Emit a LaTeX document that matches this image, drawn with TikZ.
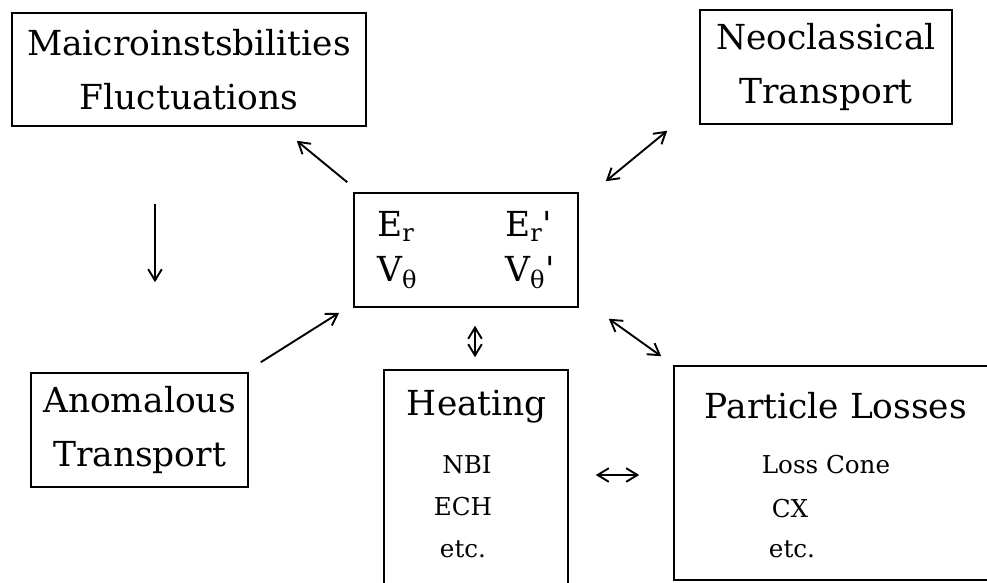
\documentclass[tikz,border=0pt]{standalone}
\usepackage{fontspec}
\setmainfont{DejaVu Serif}
\usepackage{tikz}
\usetikzlibrary{arrows.meta,calc}

\begin{document}
\begin{tikzpicture}[x=0.25mm,y=-0.25mm,
    every node/.style={font=\fontsize{24.5}{38}\selectfont, align=center},
    box/.style={draw, line width=1.1pt, inner sep=0pt},
    title/.style={anchor=base},
    item/.style={font=\fontsize{17.5}{20}\selectfont, anchor=base},
    arr/.style={-{Straight Barb[length=2.8mm,width=3.4mm]}, line width=1.35pt},
    dbl/.style={{Straight Barb[length=2.8mm,width=3.4mm]}-{Straight Barb[length=2.8mm,width=3.4mm]}, line width=1.35pt}
  ]
  \clip (0,0) rectangle (987,582);
  % boxes
  \node[box, minimum width=88.5mm, minimum height=28.25mm] (mic) at (189,69.5) {Maicroinstsbilities\\Fluctuations};
  \node[box, minimum width=63mm, minimum height=28.5mm] (neo) at (826,67) {Neoclassical\\Transport};
  \node[box, minimum width=56mm, minimum height=28.5mm] (cen) at (466,250)
    {\fontsize{24.5}{32}\selectfont\begin{tabular}{@{}l@{\hspace{22mm}}l@{}}
      E\textsubscript{r} & E\textsubscript{r}\textquotesingle\\
      V\textsubscript{θ} & V\textsubscript{θ}\textquotesingle
    \end{tabular}};
  \node[box, minimum width=54.25mm, minimum height=28.5mm] (ano) at (139.5,430) {Anomalous\\Transport};
  \node[box, minimum width=46mm, minimum height=57.5mm] (hea) at (476,485) {};
  \node[box, minimum width=81.5mm, minimum height=53.5mm] (par) at (837,473) {};
  % box contents
  \node[title] (heat) at (477,415) {Heating};
  \node[item] (nbi) at (467,473) {NBI};
  \node[item] (ech) at (463,515) {ECH};
  \node[item] (hetc) at (463,557) {etc.};
  \node[title] (part) at (836,418) {Particle Losses};
  \node[item] (cone) at (826,473) {Loss Cone};
  \node[item] (cx) at (790,517) {CX};
  \node[item] (petc) at (792,557) {etc.};
  % connectors
  \draw[arr] ($(cen.north west)+(-6,-10)$) -- ($(mic.south east)+(-70,14)$);
  \draw[dbl] ($(cen.north east)+(27,-11)$) -- ($(neo.south west)+(-32,6)$);
  \draw[arr] ($(mic.south)+(-34,77)$) -- ($(ano.north)+(15.5,-90)$);
  \draw[arr] ($(ano.north east)+(12,-10)$) -- ($(cen.south west)+(-14,5)$);
  \draw[dbl] ($(cen.south)+(9,18)$) -- ($(hea.north)+(-1,-12)$);
  \draw[dbl] ($(cen.south east)+(30,11)$) -- ($(par.north west)+(-12,-9)$);
  \draw[dbl] ($(hea.east)+(27,-10)$) -- ($(par.west)+(-34,2)$);
\end{tikzpicture}
\end{document}
